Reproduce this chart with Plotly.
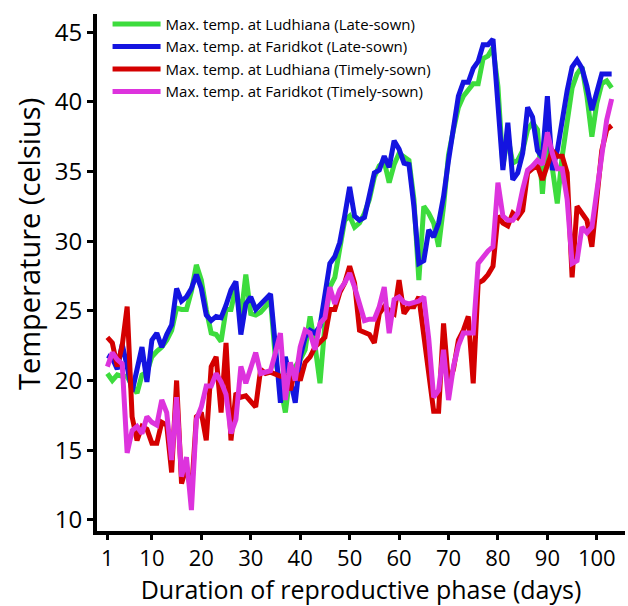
import plotly.graph_objects as go

days = list(range(1, 104))

ludhiana_late = [20.5, 20.0, 20.4, 20.3, 20.3, 19.6, 19.1, 20.4, 20.6, 21.7,
                 22.1, 22.4, 22.9, 23.6, 25.2, 25.1, 25.1, 26.4, 28.3, 27.2,
                 25.1, 23.4, 23.3, 22.8, 25.1, 25.1, 26.7, 24.5, 27.6, 24.8,
                 24.7, 24.9, 25.3, 25.8, 21.5, 19.8, 17.7, 20.5, 21.0, 21.5,
                 22.2, 24.6, 22.5, 19.8, 24.0, 26.7, 27.4, 29.4, 31.5, 31.8,
                 31.0, 31.3, 32.0, 33.0, 34.6, 35.4, 35.7, 34.2, 35.5, 36.3,
                 36.1, 35.8, 33.0, 27.2, 32.5, 32.0, 31.3, 29.6, 32.5, 36.2,
                 38.0, 39.6, 40.4, 40.8, 41.3, 41.3, 43.1, 43.3, 43.9, 41.1,
                 35.4, 37.5, 35.6, 35.8, 36.5, 38.0, 38.5, 38.0, 33.4, 37.8,
                 35.0, 32.7, 36.1, 38.9, 41.0, 42.0, 42.5, 40.4, 37.5, 39.9,
                 41.3, 41.5, 41.0]

faridkot_late = [21.8, 21.6, 20.8, 22.6, 21.0, 19.2, 20.8, 22.4, 19.9, 22.9,
                 23.4, 22.4, 23.3, 24.0, 26.6, 25.7, 26.0, 26.6, 27.6, 26.6,
                 24.7, 24.3, 24.6, 24.5, 25.4, 26.5, 27.1, 23.3, 25.5, 26.0,
                 25.1, 25.5, 25.9, 26.2, 22.4, 18.4, 21.7, 20.0, 18.4, 21.7,
                 23.1, 23.6, 23.4, 23.9, 26.0, 28.4, 28.9, 29.9, 31.8, 33.9,
                 31.8, 31.5, 31.7, 33.4, 34.9, 35.1, 36.1, 35.3, 37.2, 36.6,
                 35.6, 35.5, 32.5, 28.4, 28.6, 30.8, 30.3, 31.3, 33.2, 35.8,
                 38.0, 40.4, 41.4, 41.4, 42.4, 42.9, 44.1, 44.1, 44.5, 39.9,
                 35.1, 38.5, 34.4, 34.9, 36.3, 39.6, 38.9, 36.5, 36.0, 40.4,
                 35.1, 36.5, 38.7, 40.8, 42.5, 43.0, 42.4, 41.1, 39.4, 40.8,
                 42.0, 42.0, 42.0]

ludhiana_timely = [23.1, 22.7, 21.0, 22.5, 25.3, 17.4, 15.7, 16.7, 16.5, 15.5,
                   15.5, 17.0, 16.8, 13.4, 20.0, 12.6, 13.8, 11.9, 17.4, 17.7,
                   15.7, 21.0, 21.7, 17.7, 22.7, 15.7, 19.1, 18.8, 18.9, 18.5,
                   18.1, 20.8, 20.5, 20.6, 20.4, 20.3, 20.3, 19.3, 20.8, 20.0,
                   21.3, 21.7, 22.4, 22.7, 23.1, 25.1, 25.1, 26.3, 27.0, 28.2,
                   27.0, 23.6, 23.4, 23.3, 22.7, 24.8, 25.3, 25.0, 24.8, 27.2,
                   24.8, 25.3, 25.3, 26.0, 22.9, 20.5, 17.8, 17.8, 24.1, 19.8,
                   20.8, 22.9, 23.6, 24.6, 19.8, 27.0, 27.2, 27.6, 28.2, 31.8,
                   31.3, 31.1, 32.0, 31.7, 32.2, 34.9, 35.2, 35.4, 34.4, 35.5,
                   36.5, 36.1, 36.1, 34.9, 27.4, 32.5, 32.0, 31.5, 29.6, 33.2,
                   36.5, 38.0, 38.3]

faridkot_timely = [21.0, 22.0, 21.5, 21.2, 14.8, 16.4, 16.7, 16.2, 17.4, 17.0,
                   16.8, 18.6, 17.7, 14.3, 18.8, 13.1, 14.5, 10.7, 17.2, 18.1,
                   19.6, 19.6, 20.5, 19.9, 19.0, 16.2, 17.2, 21.0, 19.8, 21.0,
                   22.0, 20.5, 20.6, 20.7, 22.0, 23.4, 18.6, 21.3, 20.0, 22.4,
                   23.6, 23.4, 22.2, 24.1, 24.5, 26.7, 25.5, 26.5, 27.0, 27.7,
                   26.7, 25.5, 24.3, 24.4, 24.4, 25.3, 26.7, 23.4, 25.8, 26.0,
                   25.6, 25.5, 25.6, 25.7, 26.0, 23.0, 18.8, 19.3, 22.2, 18.6,
                   21.0, 22.5, 23.4, 23.4, 23.4, 28.4, 28.9, 29.3, 29.6, 34.2,
                   31.8, 31.5, 31.5, 32.0, 33.7, 35.1, 35.4, 35.8, 35.5, 37.8,
                   36.3, 35.2, 35.2, 33.0, 28.4, 28.6, 31.0, 30.6, 31.0, 33.7,
                   36.3, 38.7, 40.2]

names = ["Max. temp. at Ludhiana (Late-sown)",
         "Max. temp. at Faridkot (Late-sown)",
         "Max. temp. at Ludhiana (Timely-sown)",
         "Max. temp. at Faridkot (Timely-sown)"]
colors = ["#3ddc3d", "#1414e0", "#d40000", "#dd33dd"]
series = [ludhiana_late, faridkot_late, ludhiana_timely, faridkot_timely]

x_ticks = [1, 10, 20, 30, 40, 50, 60, 70, 80, 90, 100]
y_ticks = [10, 15, 20, 25, 30, 35, 40, 45]

fig = go.Figure()
for name, col, vals in zip(names, colors, series):
    fig.add_trace(go.Scatter(x=days, y=vals, mode="lines", name=name,
                             line=dict(color=col, width=5)))

font_family = "Open Sans, Noto Sans, DejaVu Sans, sans-serif"
fig.update_layout(
    width=628, height=606,
    margin=dict(l=97, r=3, t=14, b=75),
    plot_bgcolor="white", paper_bgcolor="white",
    font=dict(family=font_family, color="black"),
    showlegend=True,
    legend=dict(x=0.02, y=1.012, xanchor="left", yanchor="top",
                font=dict(size=15, color="black"),
                bgcolor="rgba(0,0,0,0)", tracegroupgap=0, itemwidth=48),
    xaxis=dict(range=[-1.1, 105.7], tickvals=x_ticks, ticktext=[str(t) for t in x_ticks],
               showgrid=False, zeroline=False, showline=True, linecolor="black",
               linewidth=4, ticks="outside", ticklen=5, tickwidth=3, tickcolor="black",
               tickfont=dict(size=22), automargin=False,
               title=dict(text="Duration of reproductive phase (days)",
                          font=dict(size=25), standoff=8)),
    yaxis=dict(range=[9.2, 46.3], tickvals=y_ticks, ticktext=[str(t) for t in y_ticks],
               showgrid=False, zeroline=False, showline=True, linecolor="black",
               linewidth=4, ticks="outside", ticklen=6, tickwidth=3, tickcolor="black",
               tickfont=dict(size=24), automargin=False),
    annotations=[dict(text="Temperature (celsius)", xref="paper", yref="paper",
                      x=-0.1307, y=0.555, xanchor="center", yanchor="middle",
                      textangle=-90, showarrow=False, font=dict(size=29))],
)

fig.write_html("out.html", config={"displayModeBar": False},
               post_script="document.body.style.margin='0';")
